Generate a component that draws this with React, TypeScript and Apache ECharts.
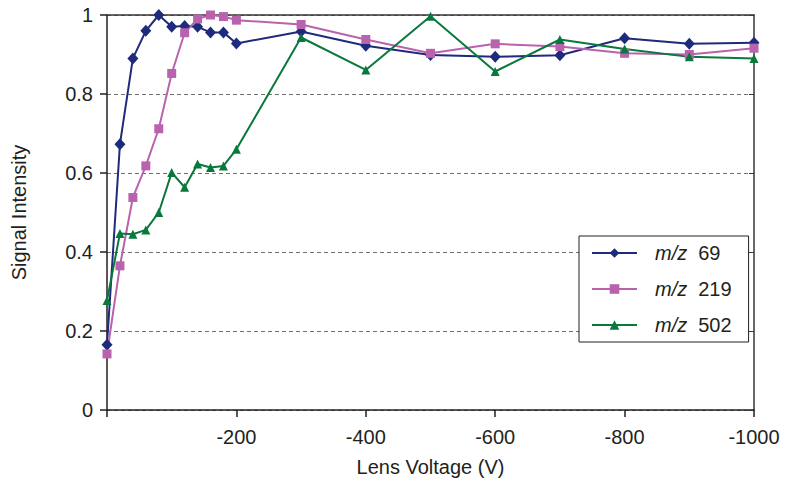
import React, { useEffect, useRef } from "react";
import * as echarts from "echarts";

// Lens voltage settings (V) and normalised signal for each ion
const voltage = [0, -20, -40, -60, -80, -100, -120, -140, -160, -180, -200, -300, -400, -500, -600, -700, -800, -900, -1000];
const mz69 = [0.165, 0.673, 0.89, 0.96, 1.0, 0.97, 0.972, 0.97, 0.956, 0.956, 0.928, 0.958, 0.922, 0.899, 0.894, 0.898, 0.941, 0.927, 0.93];
const mz219 = [0.142, 0.365, 0.538, 0.618, 0.712, 0.852, 0.955, 0.99, 1.0, 0.996, 0.987, 0.976, 0.938, 0.903, 0.927, 0.92, 0.903, 0.9, 0.916];
const mz502 = [0.277, 0.447, 0.445, 0.456, 0.5, 0.601, 0.564, 0.623, 0.614, 0.618, 0.66, 0.943, 0.861, 0.997, 0.857, 0.938, 0.914, 0.894, 0.89];

const seriesNames = ["m/z 69", "m/z 219", "m/z 502"];
const xTicks = { min: -1000, max: 0, interval: 200 };
const yTicks = { min: 0, max: 1, interval: 0.2 };

const INK = "#231f20";
const FONT = "'Liberation Sans', Arial, Helvetica, sans-serif";
const FS = 20;

export default function App() {
  const ref = useRef<HTMLDivElement>(null);

  useEffect(() => {
    if (!ref.current) return;
    const chart = echarts.init(ref.current, undefined, { renderer: "svg" });

    const pairs = (ys: number[]) => voltage.map((v, i) => [v, ys[i]]);

    const specs = [
      { name: seriesNames[0], data: mz69, color: "#1e2b7c", symbol: "diamond", size: [11, 12] },
      { name: seriesNames[1], data: mz219, color: "#b963ae", symbol: "rect", size: 9 },
      { name: seriesNames[2], data: mz502, color: "#08783c", symbol: "triangle", size: 9 },
    ];

    chart.setOption({
      animation: false,
      textStyle: { fontFamily: FONT, color: INK },
      grid: { left: 107, right: 31, top: 15, bottom: 76, containLabel: false },
      legend: {
        orient: "vertical",
        left: 579,
        top: 236,
        data: seriesNames,
        backgroundColor: "#ffffff",
        borderColor: INK,
        borderWidth: 1,
        borderRadius: 0,
        padding: [7, 17, 7, 12],
        itemWidth: 45,
        itemHeight: 12,
        itemGap: 16,
        formatter: (name: string) => {
          const num = name.split(" ")[1];
          return `{i|m/z}{n|${num}}`;
        },
        textStyle: {
          fontFamily: FONT,
          color: INK,
          fontSize: FS,
          rich: {
            i: { fontStyle: "italic", fontSize: FS, color: INK, fontFamily: FONT, padding: [0, 0, 0, 13] },
            n: { fontSize: FS, color: INK, fontFamily: FONT, padding: [0, 0, 0, 11] },
          },
        },
      },
      xAxis: [
        {
          type: "value",
          inverse: true,
          min: xTicks.min,
          max: xTicks.max,
          interval: xTicks.interval,
          name: "Lens Voltage (V)",
          nameLocation: "middle",
          nameGap: 47,
          nameTextStyle: { fontSize: FS, color: INK, fontFamily: FONT },
          axisLine: { show: true, onZero: false, lineStyle: { color: INK, width: 1.5 } },
          axisTick: { show: true, inside: false, length: 7, lineStyle: { color: INK, width: 1.5 } },
          axisLabel: {
            fontSize: FS,
            color: INK,
            fontFamily: FONT,
            margin: 17,
            formatter: (v: number) => (v === 0 ? "" : String(v)),
          },
          splitLine: { show: false },
        },
        {
          type: "value",
          position: "top",
          inverse: true,
          min: xTicks.min,
          max: xTicks.max,
          interval: xTicks.interval,
          axisLine: { show: true, onZero: false, lineStyle: { color: "#3a3536", width: 1.5 } },
          axisTick: { show: false },
          axisLabel: { show: false },
          splitLine: { show: false },
        },
      ],
      yAxis: [
        {
          type: "value",
          min: yTicks.min,
          max: yTicks.max,
          interval: yTicks.interval,
          name: "Signal Intensity",
          nameLocation: "middle",
          nameGap: 78,
          nameTextStyle: { fontSize: FS, color: INK, fontFamily: FONT },
          axisLine: { show: true, onZero: false, lineStyle: { color: INK, width: 1.5 } },
          axisTick: { show: true, inside: false, length: 7, lineStyle: { color: INK, width: 1.5 } },
          axisLabel: { fontSize: FS, color: INK, fontFamily: FONT, margin: 14 },
          splitLine: {
            show: true,
            lineStyle: { color: "#6f6f6f", width: 1.2, type: [4, 3] },
          },
        },
        {
          type: "value",
          position: "right",
          min: yTicks.min,
          max: yTicks.max,
          interval: yTicks.interval,
          axisLine: { show: true, onZero: false, lineStyle: { color: "#3a3536", width: 1.5 } },
          axisTick: { show: true, inside: true, length: 5, lineStyle: { color: "#3a3536", width: 1 } },
          axisLabel: { show: false },
          splitLine: { show: false },
        },
      ],
      series: specs.map((s) => ({
        name: s.name,
        type: "line",
        xAxisIndex: 0,
        yAxisIndex: 0,
        data: pairs(s.data),
        symbol: s.symbol,
        symbolSize: s.size,
        showSymbol: true,
        clip: false,
        lineStyle: { color: s.color, width: 2 },
        itemStyle: { color: s.color },
        emphasis: { disabled: true },
      })),
    });

    return () => chart.dispose();
  }, []);

  return (
    <div
      ref={ref}
      style={{ position: "fixed", left: 0, top: 0, width: 785, height: 486, background: "#ffffff" }}
    />
  );
}
